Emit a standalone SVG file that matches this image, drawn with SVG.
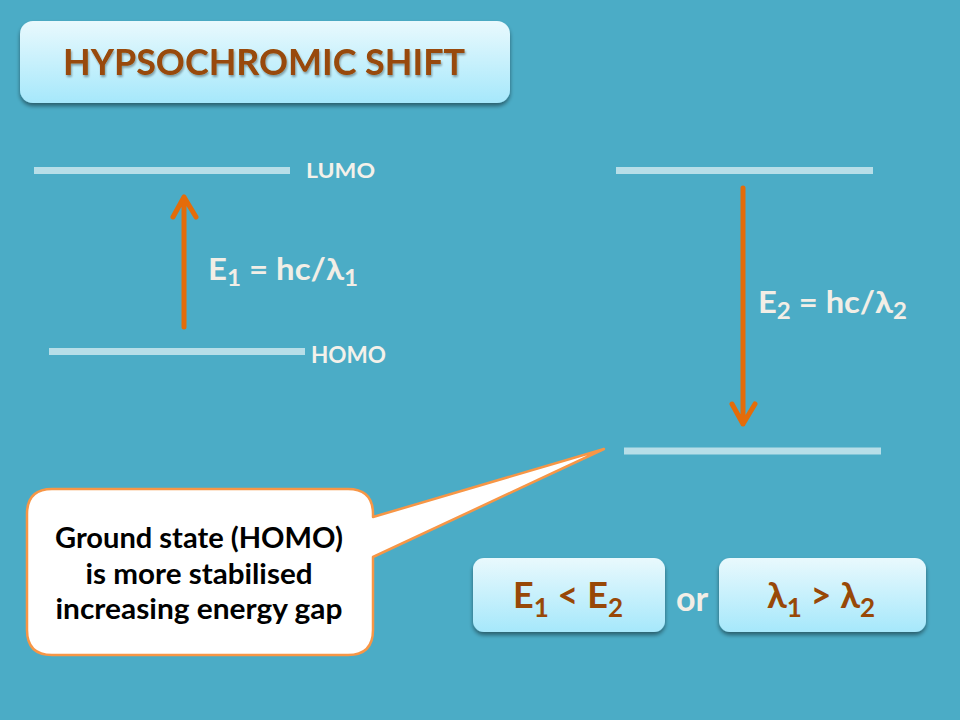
<svg xmlns="http://www.w3.org/2000/svg" width="960" height="720" viewBox="0 0 960 720">
<defs>
<linearGradient id="boxg" x1="0" y1="0" x2="0" y2="1">
<stop offset="0" stop-color="#E9F9FD"/>
<stop offset="1" stop-color="#A6E8FB"/>
</linearGradient>
<filter id="sh" x="-10%" y="-10%" width="120%" height="130%">
<feGaussianBlur in="SourceAlpha" stdDeviation="2"/>
<feOffset dx="0" dy="3" result="b"/>
<feComponentTransfer><feFuncA type="linear" slope="0.45"/></feComponentTransfer>
<feMerge><feMergeNode/><feMergeNode in="SourceGraphic"/></feMerge>
</filter>
<filter id="tsh" x="-5%" y="-20%" width="110%" height="140%">
<feGaussianBlur in="SourceAlpha" stdDeviation="1"/>
<feOffset dx="1" dy="1.5"/>
<feComponentTransfer><feFuncA type="linear" slope="0.35"/></feComponentTransfer>
<feMerge><feMergeNode/><feMergeNode in="SourceGraphic"/></feMerge>
</filter>
</defs>
<style>
.lvl{stroke:#B7DEE8;stroke-width:7;}
.arr{stroke:#E46C0A;stroke-width:5;stroke-linecap:round;stroke-linejoin:round;fill:none;}
.lbl{font-family:Lato,"Liberation Sans",sans-serif;font-weight:bold;fill:#F4F1EA;}
.eq{font-family:Lato,"Liberation Sans",sans-serif;font-weight:bold;fill:#F2EEE6;}
.brown{font-family:Lato,"Liberation Sans",sans-serif;font-weight:bold;fill:#984807;}
.box{fill:url(#boxg);}
.call{font-family:Lato,"Liberation Sans",sans-serif;font-weight:bold;fill:#000000;font-size:29px;text-anchor:middle;}
</style>
<rect width="960" height="720" fill="#4BACC6"/>

<g id="title">
<rect x="20" y="21" width="490" height="82" rx="13" class="box" filter="url(#sh)"/>
<text x="264" y="75" class="brown" font-size="36" text-anchor="middle" textLength="402" lengthAdjust="spacingAndGlyphs" filter="url(#tsh)">HYPSOCHROMIC SHIFT</text>
</g>

<g id="lumo-left">
<line x1="34" y1="170.5" x2="290" y2="170.5" class="lvl"/>
<text x="306" y="178" class="lbl" font-size="21" textLength="69" lengthAdjust="spacingAndGlyphs">LUMO</text>
</g>
<g id="homo-left">
<line x1="49" y1="351.5" x2="305" y2="351.5" class="lvl"/>
<text x="311" y="363" class="lbl" font-size="22" textLength="75" lengthAdjust="spacingAndGlyphs">HOMO</text>
</g>
<g id="lumo-right">
<line x1="616" y1="170.5" x2="873" y2="170.5" class="lvl"/>
</g>
<g id="homo-right">
<line x1="624" y1="451" x2="881" y2="451" class="lvl"/>
</g>

<g id="connectors">
<path class="arr" d="M184 327 L184 197 M173 217 L184 197 L196 217"/>
<path class="arr" d="M743 188 L743 424 M732 404 L743 424 L755 404"/>
</g>

<g id="eq1">
<text x="208" y="280" class="eq" font-size="30" textLength="150" lengthAdjust="spacingAndGlyphs">E<tspan font-size="22" dy="6">1</tspan><tspan dy="-6"> = hc/λ</tspan><tspan font-size="22" dy="6">1</tspan></text>
</g>
<g id="eq2">
<text x="758" y="313" class="eq" font-size="30" textLength="149" lengthAdjust="spacingAndGlyphs">E<tspan font-size="22" dy="6">2</tspan><tspan dy="-6"> = hc/λ</tspan><tspan font-size="22" dy="6">2</tspan></text>
</g>

<g id="callout">
<path d="M52 489 L348 489 Q373 489 373 514 L373 517 L604 449 L373 557 L373 630 Q373 655 348 655 L52 655 Q27 655 27 630 L27 514 Q27 489 52 489 Z" fill="#FFFFFF" stroke="#F79646" stroke-width="2.5" stroke-linejoin="round"/>
<text x="199" y="548" class="call" textLength="288" lengthAdjust="spacingAndGlyphs">Ground state (HOMO)</text>
<text x="199" y="584" class="call" textLength="227" lengthAdjust="spacingAndGlyphs">is more stabilised</text>
<text x="199" y="619" class="call" textLength="287" lengthAdjust="spacingAndGlyphs">increasing energy gap</text>
</g>

<g id="cmp1">
<rect x="473" y="558" width="192" height="74" rx="11" class="box" filter="url(#sh)"/>
<text x="568" y="608" class="brown" font-size="36" text-anchor="middle">E<tspan font-size="26" dy="9">1</tspan><tspan dy="-9"> &lt; E</tspan><tspan font-size="26" dy="9">2</tspan></text>
</g>
<g id="or">
<text x="692" y="611" class="eq" font-size="34" text-anchor="middle">or</text>
</g>
<g id="cmp2">
<rect x="719" y="558" width="207" height="74" rx="11" class="box" filter="url(#sh)"/>
<text x="821" y="608" class="brown" font-size="36" text-anchor="middle">λ<tspan font-size="26" dy="9">1</tspan><tspan dy="-9"> &gt; λ</tspan><tspan font-size="26" dy="9">2</tspan></text>
</g>
</svg>
